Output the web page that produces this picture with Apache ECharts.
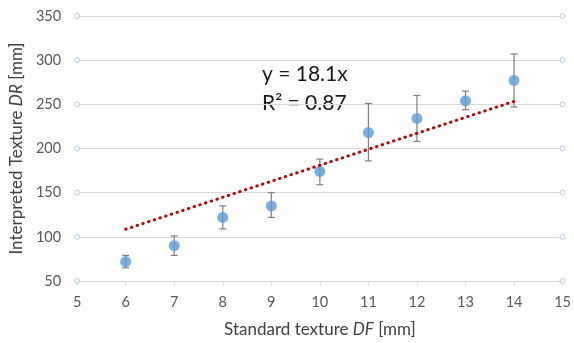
<!DOCTYPE html>
<html>
<head>
<meta charset="utf-8">
<script src="https://cdn.jsdelivr.net/npm/echarts@6/dist/echarts.min.js"></script>
<style>
html,body{margin:0;padding:0;background:#fff;}
#chart{width:574px;height:343px;}
</style>
</head>
<body>
<div id="chart"></div>
<script>
// Data
var xValues = [6, 7, 8, 9, 10, 11, 12, 13, 14];
var meanValues = [72, 90, 122, 135, 174, 218, 234, 254, 277];
var upperValues = [79, 101, 135, 150, 188, 251, 260, 265, 307];
var lowerValues = [65, 79, 109, 122, 159, 186, 208, 244, 247];
var trendX = [6, 14];
var trendY = [108.6, 253.4];
var yTicks = [50, 100, 150, 200, 250, 300, 350];
var xRange = [5, 15];
var equationText = 'y = 18.1x';
var r2Text = 'R² = 0.87';

var fontFam = 'Lato, "Open Sans", sans-serif';

var scatterData = xValues.map(function (x, i) { return [x, meanValues[i]]; });
var errData = xValues.map(function (x, i) { return [x, lowerValues[i], upperValues[i]]; });
var trendData = trendX.map(function (x, i) { return [x, trendY[i]]; });
var endDots = [];
yTicks.forEach(function (y) { endDots.push([xRange[0], y]); endDots.push([xRange[1], y]); });

var chart = echarts.init(document.getElementById('chart'));
chart.setOption({
  animation: false,
  grid: { left: 74, right: 8, top: 16, bottom: 61 },
  xAxis: {
    type: 'value', min: 5, max: 15, interval: 1,
    name: '{n|Standard texture }{i|DF}{n| [mm]}',
    nameLocation: 'middle', nameGap: 40,
    nameTextStyle: {
      rich: {
        n: { fontFamily: fontFam, fontSize: 17, color: '#404040' },
        i: { fontFamily: fontFam, fontSize: 17, color: '#404040', fontStyle: 'italic' }
      }
    },
    axisLine: { show: true, lineStyle: { color: '#d9d9d9', width: 1 } },
    axisTick: { show: true, length: 4, lineStyle: { color: '#d9d9d9' } },
    splitLine: { show: false },
    axisLabel: { color: '#595959', fontFamily: fontFam, fontSize: 14.5, margin: 14 }
  },
  yAxis: {
    type: 'value', min: 50, max: 350, interval: 50,
    name: '{n|Interpreted Texture }{i|DR}{n| [mm]}',
    nameLocation: 'middle', nameGap: 47,
    nameTextStyle: {
      rich: {
        n: { fontFamily: fontFam, fontSize: 17, color: '#404040' },
        i: { fontFamily: fontFam, fontSize: 17, color: '#404040', fontStyle: 'italic' }
      }
    },
    axisLine: { show: false },
    axisTick: { show: false },
    splitLine: { show: true, lineStyle: { color: '#d9d9d9', width: 1 } },
    axisLabel: { color: '#595959', fontFamily: fontFam, fontSize: 14.5, margin: 16 }
  },
  graphic: [
    { type: 'text', left: 262, top: 64, style: { text: equationText, fontFamily: fontFam, fontSize: 21, fill: '#1a1a1a' } },
    { type: 'text', left: 262, top: 93, style: { text: r2Text, fontFamily: fontFam, fontSize: 21, fill: '#1a1a1a' } }
  ],
  series: [
    {
      type: 'scatter', data: endDots, symbol: 'circle', symbolSize: 5, z: 1,
      itemStyle: { color: '#ffffff', borderColor: '#9dc3e6', borderWidth: 1 },
      silent: true
    },
    {
      type: 'custom', data: errData, z: 2,
      renderItem: function (params, api) {
        var x = api.value(0);
        var lo = api.coord([x, api.value(1)]);
        var hi = api.coord([x, api.value(2)]);
        var w = 3.5;
        var st = { stroke: '#7f7f7f', lineWidth: 1.2 };
        return {
          type: 'group',
          children: [
            { type: 'line', shape: { x1: lo[0], y1: lo[1], x2: hi[0], y2: hi[1] }, style: st },
            { type: 'line', shape: { x1: lo[0] - w, y1: lo[1], x2: lo[0] + w, y2: lo[1] }, style: st },
            { type: 'line', shape: { x1: hi[0] - w, y1: hi[1], x2: hi[0] + w, y2: hi[1] }, style: st }
          ]
        };
      }
    },
    {
      type: 'scatter', data: scatterData, symbol: 'circle', symbolSize: 11, z: 3,
      itemStyle: { color: '#5b9bd5' }
    },
    {
      type: 'line', data: trendData, symbol: 'none', z: 4,
      lineStyle: { color: '#c00000', width: 3, type: [0.5, 5.5], cap: 'round' }
    }
  ]
});
</script>
</body>
</html>
